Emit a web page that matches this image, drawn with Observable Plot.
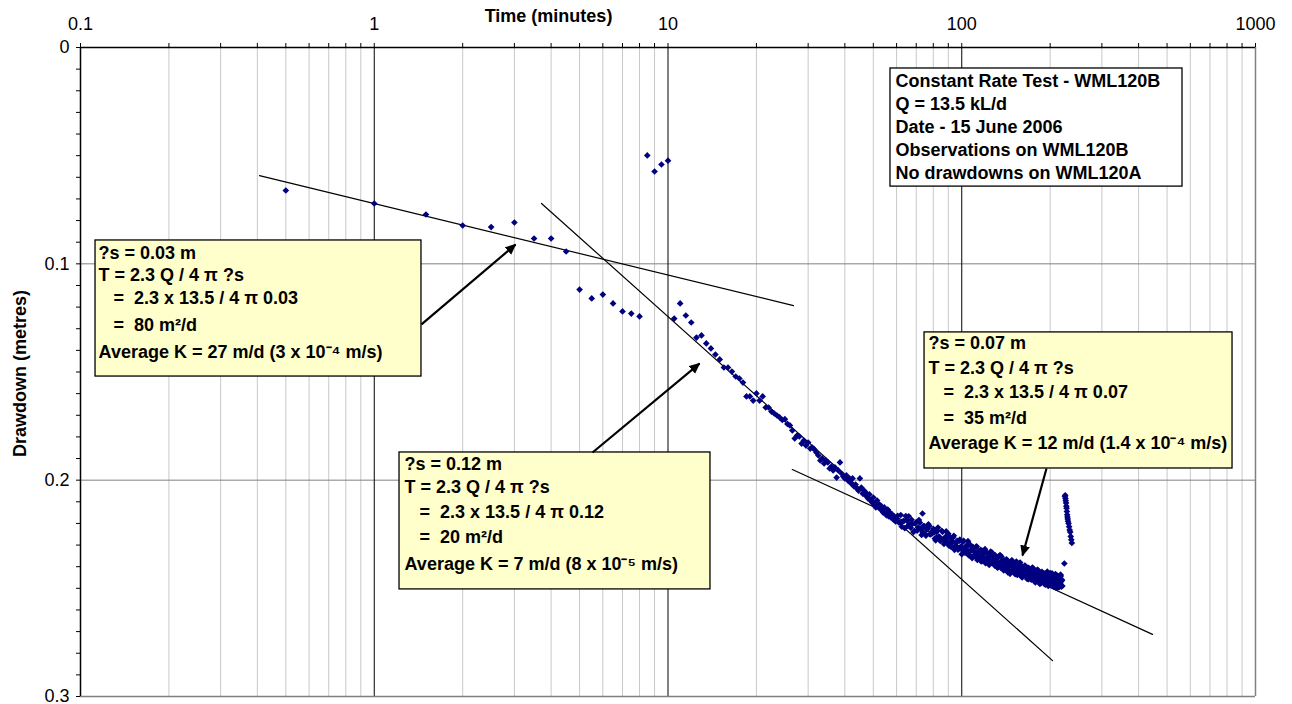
<!DOCTYPE html>
<html><head><meta charset="utf-8">
<script src="https://cdn.jsdelivr.net/npm/d3@7"></script>
<script src="https://cdn.jsdelivr.net/npm/@observablehq/plot@0.6"></script>
<style>
body{margin:0;background:#fff;}
#chart text{white-space:pre;}
#chart svg g[aria-label^="x-axis"] text, #chart svg g[aria-label^="y-axis"] text{font-size:18px !important;font-family:'Liberation Sans',Arial,sans-serif !important;}
</style></head><body><div id="chart"></div>
<script>
// ---- axis ticks ----
const xTicks = [0.1,0.2,0.3,0.4,0.5,0.6,0.7,0.8,0.9,1,2,3,4,5,6,7,8,9,10,20,30,40,50,60,70,80,90,100,200,300,400,500,600,700,800,900,1000];
const xMajor = [0.1,1,10,100,1000];
const xMajorLabels = ["0.1","1","10","100","1000"];
const yTicks = [0,0.01,0.02,0.03,0.04,0.05,0.06,0.07,0.08,0.09,0.1,0.11,0.12,0.13,0.14,0.15,0.16,0.17,0.18,0.19,0.2,0.21,0.22,0.23,0.24,0.25,0.26,0.27,0.28,0.29,0.3];
const yMajor = [0,0.1,0.2,0.3];
const yMajorLabels = ["0","0.1","0.2","0.3"];

// ---- observations (time in minutes, drawdown in metres) ----
const earlyTime = [0.5,1,1.5,2,2.5,3,3.5,4,4.5,5,5.5,6,6.5,7,7.5,8,8.5,9,9.5,10,10.5,11,11.5,12,12.5,13,13.5,14,14.5,15,15.5,16,16.5,17,17.5,18,18.5,19,19.5,20,20.5,21,21.5,22,22.5,23,23.5,24,24.5,25,25.5];
const earlyDrawdown = [0.0661,0.0721,0.0772,0.0823,0.0830,0.0809,0.0883,0.0883,0.0943,0.1119,0.1160,0.1142,0.1183,0.1220,0.1230,0.1243,0.0499,0.0573,0.0541,0.0523,0.1253,0.1183,0.1239,0.1271,0.1341,0.1331,0.1368,0.1391,0.1419,0.1442,0.1479,0.1479,0.1498,0.1521,0.1530,0.1549,0.1613,0.1613,0.1632,0.1599,0.1632,0.1613,0.1664,0.1664,0.1683,0.1692,0.1701,0.1710,0.1722,0.1718,0.1740];

const midTime = [26,26.5,27,27.5,28,28.5,29,29.5,30,30.5,31,31.5,32,32.5,33,33.5,34,34.5,35,35.5,36,36.5,37,37.5,38,38.5,39,39.5,40,40.5,41,41.5,42,42.5,43,43.5,44,44.5,45,45.5,46,46.5,47,47.5,48,48.5,49,49.5,50,50.5,51,51.5,52,52.5,53,53.5,54,54.5,55,55.5,56,56.5,57,57.5,58,58.5,59,59.5,60,73.5];
const midDrawdown = [0.1747,0.1770,0.1807,0.1794,0.1798,0.1831,0.1817,0.1840,0.1826,0.1854,0.1849,0.1858,0.1872,0.1886,0.1909,0.1900,0.1923,0.1909,0.1918,0.1946,0.1937,0.1955,0.1941,0.1988,0.1955,0.1918,0.1969,0.1983,0.1992,0.1978,0.2002,0.1992,0.2015,0.1992,0.2029,0.2020,0.2039,0.2048,0.1992,0.2034,0.2062,0.2048,0.2071,0.2062,0.2085,0.2066,0.2094,0.2103,0.2080,0.2117,0.2126,0.2094,0.2108,0.2131,0.2117,0.2140,0.2150,0.2126,0.2154,0.2163,0.2136,0.2168,0.2150,0.2173,0.2159,0.2182,0.2168,0.2191,0.2177,0.2154];

const lateTime = [61,62,63,64,65,66,67,68,69,70,71,72,73,74,75,76,77,78,79,80,81,82,83,84,85,86,87,88,89,90,91,92,93,94,95,96,97,98,99,100,101,102,103,104,105,106,107,108,109,110,111,112,113,114,115,116,117,118,119,120,121,122,123,124,125,126,127,128,129,130,131,132,133,134,135,136,137,138,139,140,141,142,143,144,145,146,147,148,149,150,151,152,153,154,155,156,157,158,159,160,161,162,163,164,165,166,167,168,169,170,171,172,173,174,175,176,177,178,179,180,181,182,183,184,185,186,187,188,189,190,191,192,193,194,195,196,197,198,199,200,201,202,203,204,205,206,207,208,209,210,211,212,213,214,215,216,217,218,219,220];
const lateDrawdown = [
0.2195,0.2161,0.2192,0.2222,0.2187,0.2167,0.2220,0.2202,0.2234,0.2195,
0.2219,0.2196,0.2253,0.2212,0.2248,0.2225,0.2204,0.2251,0.2240,0.2225,
0.2270,0.2239,0.2219,0.2263,0.2276,0.2239,0.2295,0.2263,0.2282,0.2248,
0.2264,0.2309,0.2286,0.2257,0.2306,0.2287,0.2321,0.2281,0.2312,0.2342,
0.2285,0.2316,0.2333,0.2301,0.2282,0.2333,0.2351,0.2321,0.2308,0.2349,
0.2342,0.2307,0.2369,0.2332,0.2357,0.2322,0.2349,0.2373,0.2337,0.2319,
0.2378,0.2356,0.2342,0.2392,0.2352,0.2377,0.2336,0.2374,0.2387,0.2347,
0.2368,0.2402,0.2357,0.2389,0.2346,0.2406,0.2386,0.2370,0.2417,0.2380,
0.2407,0.2366,0.2402,0.2416,0.2384,0.2433,0.2395,0.2370,0.2415,0.2385,
0.2408,0.2435,0.2386,0.2402,0.2435,0.2398,0.2431,0.2381,0.2422,0.2429,
0.2400,0.2442,0.2430,0.2395,0.2438,0.2423,0.2457,0.2417,0.2405,0.2450,
0.2439,0.2417,0.2460,0.2404,0.2437,0.2456,0.2430,0.2473,0.2419,0.2452,
0.2415,0.2458,0.2441,0.2469,0.2433,0.2476,0.2427,0.2453,0.2466,0.2444,
0.2479,0.2442,0.2471,0.2429,0.2459,0.2438,0.2489,0.2456,0.2470,0.2430,
0.2452,0.2481,0.2431,0.2474,0.2488,0.2447,0.2469,0.2441,0.2496,0.2461,
0.2479,0.2442,0.2469,0.2495,0.2451,0.2478,0.2437,0.2491,0.2465,0.2489];

const lateHalfTime = [60.5,61.5,62.5,63.5,64.5,65.5,66.5,67.5,68.5,69.5,70.5,71.5,72.5,73.5,74.5,75.5,76.5,77.5,78.5,79.5,80.5,81.5,82.5,83.5,84.5,85.5,86.5,87.5,88.5,89.5,90.5,91.5,92.5,93.5,94.5,95.5,96.5,97.5,98.5,99.5,100.5,101.5,102.5,103.5,104.5,105.5,106.5,107.5,108.5,109.5,110.5,111.5,112.5,113.5,114.5,115.5,116.5,117.5,118.5,119.5,120.5,121.5,122.5,123.5,124.5,125.5,126.5,127.5,128.5,129.5,130.5,131.5,132.5,133.5,134.5,135.5,136.5,137.5,138.5,139.5,140.5,141.5,142.5,143.5,144.5,145.5,146.5,147.5,148.5,149.5,150.5,151.5,152.5,153.5,154.5,155.5,156.5,157.5,158.5,159.5,160.5,161.5,162.5,163.5,164.5,165.5,166.5,167.5,168.5,169.5,170.5,171.5,172.5,173.5,174.5,175.5,176.5,177.5,178.5,179.5,180.5,181.5,182.5,183.5,184.5,185.5,186.5,187.5,188.5,189.5,190.5,191.5,192.5,193.5,194.5,195.5,196.5,197.5,198.5,199.5,200.5,201.5,202.5,203.5,204.5,205.5,206.5,207.5,208.5,209.5,210.5,211.5,212.5,213.5,214.5,215.5,216.5,217.5,218.5,219.5];
const lateHalfDrawdown = [
0.2165,0.2195,0.2215,0.2188,0.2166,0.2212,0.2203,0.2183,0.2240,0.2199,
0.2233,0.2184,0.2226,0.2240,0.2212,0.2257,0.2226,0.2212,0.2250,0.2245,
0.2236,0.2278,0.2233,0.2260,0.2281,0.2234,0.2276,0.2266,0.2237,0.2292,
0.2303,0.2268,0.2288,0.2265,0.2322,0.2302,0.2280,0.2319,0.2275,0.2306,
0.2324,0.2280,0.2335,0.2321,0.2307,0.2347,0.2297,0.2325,0.2360,0.2312,
0.2329,0.2352,0.2307,0.2362,0.2328,0.2352,0.2376,0.2327,0.2342,0.2364,
0.2384,0.2334,0.2369,0.2352,0.2383,0.2330,0.2381,0.2370,0.2354,0.2395,
0.2361,0.2381,0.2405,0.2352,0.2395,0.2378,0.2353,0.2407,0.2396,0.2370,
0.2410,0.2385,0.2370,0.2426,0.2398,0.2383,0.2425,0.2389,0.2373,0.2413,
0.2383,0.2422,0.2413,0.2376,0.2438,0.2423,0.2407,0.2438,0.2399,0.2415,
0.2450,0.2406,0.2441,0.2427,0.2397,0.2442,0.2417,0.2405,0.2458,0.2436,
0.2416,0.2458,0.2429,0.2447,0.2406,0.2458,0.2446,0.2421,0.2467,0.2431,
0.2453,0.2415,0.2463,0.2432,0.2480,0.2443,0.2470,0.2424,0.2455,0.2465,
0.2431,0.2455,0.2483,0.2445,0.2471,0.2423,0.2469,0.2479,0.2443,0.2460,
0.2484,0.2449,0.2435,0.2479,0.2458,0.2491,0.2444,0.2471,0.2434,0.2478,
0.2459,0.2497,0.2450,0.2477,0.2494,0.2447,0.2474,0.2443,0.2491,0.2461];

const tailTime = [223.5,224.5,225,225.5,226,226.5,227,227.5,228,228.5,229,229.5,230,231,232,233,234,235,236,237];
const tailDrawdown = [0.2385,0.2075,0.2070,0.2085,0.2095,0.2105,0.2120,0.2130,0.2145,0.2160,0.2170,0.2180,0.2190,0.2200,0.2215,0.2230,0.2240,0.2260,0.2275,0.2290];

// ---- straight-line (Jacob) fits: start and end points ----
const fitStartTime = [0.4068, 3.71, 26.5];
const fitStartDrawdown = [0.0592, 0.0721, 0.1951];
const fitEndTime = [26.74, 203.7, 446];
const fitEndDrawdown = [0.1193, 0.2834, 0.2713];

// ---- annotation arrows (from box edge to target) ----
const arrowFromTime = [1.448, 5.534, 194.3];
const arrowFromDrawdown = [0.1280, 0.1872, 0.1946];
const arrowToTime = [3.026, 12.80, 161.0];
const arrowToDrawdown = [0.0911, 0.1461, 0.2348];

// ---- annotation boxes (data-space extents) ----
const boxLeftTime = [0.1125, 1.219, 74.7, 57.2];
const boxRightTime = [1.448, 13.95, 835.2, 564.3];
const boxTopDrawdown = [0.0892, 0.1872, 0.1317, 0.0097];
const boxBottomDrawdown = [0.1521, 0.2505, 0.1946, 0.0643];
const textStartTime = [0.1152, 1.268, 77.05, 59.5];
const textLineDrawdown = [
  [0.0952,0.1054,0.1160,0.1285,0.1410],
  [0.1928,0.2034,0.2150,0.2265,0.2390],
  [0.1368,0.1484,0.1595,0.1715,0.1831],
  [0.0157,0.0263,0.0370,0.0476,0.0582]];
const boxText = [
  ["?s = 0.03 m","T = 2.3 Q / 4 π ?s","   =  2.3 x 13.5 / 4 π 0.03","   =  80 m²/d","Average K = 27 m/d (3 x 10⁻⁴ m/s)"],
  ["?s = 0.12 m","T = 2.3 Q / 4 π ?s","   =  2.3 x 13.5 / 4 π 0.12","   =  20 m²/d","Average K = 7 m/d (8 x 10⁻⁵ m/s)"],
  ["?s = 0.07 m","T = 2.3 Q / 4 π ?s","   =  2.3 x 13.5 / 4 π 0.07","   =  35 m²/d","Average K = 12 m/d (1.4 x 10⁻⁴ m/s)"],
  ["Constant Rate Test - WML120B","Q = 13.5 kL/d","Date - 15 June 2006","Observations on WML120B","No drawdowns on WML120A"]];

const xTitle = "Time (minutes)";
const yTitle = "Drawdown (metres)";

// ---- build tables ----
const obs = [];
[[earlyTime,earlyDrawdown],[midTime,midDrawdown],[lateTime,lateDrawdown],[lateHalfTime,lateHalfDrawdown],[tailTime,tailDrawdown]]
  .forEach(([ts, ss]) => ts.forEach((t, i) => obs.push({t, s: ss[i]})));
const fits = [];
fitStartTime.forEach((t, i) => {
  fits.push({id: i, t, s: fitStartDrawdown[i]});
  fits.push({id: i, t: fitEndTime[i], s: fitEndDrawdown[i]});
});
const arrows = arrowFromTime.map((t, i) => ({t1: t, s1: arrowFromDrawdown[i], t2: arrowToTime[i], s2: arrowToDrawdown[i]}));
const boxes = boxLeftTime.map((t, i) => ({t1: t, t2: boxRightTime[i], s1: boxTopDrawdown[i], s2: boxBottomDrawdown[i]}));
const notes = [];
boxText.forEach((lines, b) => lines.forEach((text, j) => notes.push({t: textStartTime[b], s: textLineDrawdown[b][j], text})));

const fmtX = d => { const i = xMajor.indexOf(d); return i >= 0 ? xMajorLabels[i] : ""; };
const fmtY = d => { const i = yMajor.indexOf(d); return i >= 0 ? yMajorLabels[i] : ""; };

const chart = Plot.plot({
  width: 1292, height: 704,
  marginTop: 47, marginRight: 37, marginBottom: 8, marginLeft: 80,
  style: {fontFamily: "'Liberation Sans', Arial, sans-serif", fontSize: "18px", background: "#ffffff", color: "#000", overflow: "visible"},
  x: {type: "log", domain: [0.1, 1000], axis: "top", ticks: xTicks, tickFormat: fmtX, tickSize: 5, tickPadding: 13, label: null},
  y: {domain: [0, 0.3], reverse: true, ticks: yTicks, tickFormat: fmtY, tickSize: 4, tickPadding: 7, label: null},
  marks: [
    Plot.ruleX(xTicks.filter(d => !xMajor.includes(d)), {stroke: "#c8c8c8"}),
    Plot.ruleY([0.1, 0.2], {stroke: "#808080"}),
    Plot.ruleX([1, 10, 100], {stroke: "#000"}),
    Plot.ruleX([1000], {stroke: "#808080", strokeWidth: 1.5}),
    Plot.ruleY([0.3], {stroke: "#808080", strokeWidth: 1.5}),
    Plot.ruleY([0], {stroke: "#000", strokeWidth: 1.5}),
    Plot.ruleX([0.1], {stroke: "#000", strokeWidth: 1.5}),
    Plot.line(fits, {x: "t", y: "s", z: "id", stroke: "#000", strokeWidth: 1.2}),
    Plot.rect(boxes.slice(0, 3), {x1: "t1", x2: "t2", y1: "s1", y2: "s2", fill: "#FFFFCC", stroke: "#000", strokeWidth: 1.3}),
    Plot.rect(boxes.slice(3), {x1: "t1", x2: "t2", y1: "s1", y2: "s2", fill: "#FFFFFF", stroke: "#000", strokeWidth: 1.3}),
    Plot.link(arrows, {x1: "t1", y1: "s1", x2: "t2", y2: "s2", stroke: "#000", strokeWidth: 2.2}),
    Plot.text(notes, {x: "t", y: "s", text: "text", textAnchor: "start", fontWeight: "bold", fontSize: 18}),
    Plot.dot(obs, {x: "t", y: "s", symbol: "diamond2", r: 3.0, fill: "#000080"}),
    Plot.text([{t: 3.92, s: -0.0143, text: xTitle}], {x: "t", y: "s", text: "text", fontWeight: "bold", fontSize: 18}),
    Plot.text([{t: 0.0625, s: 0.1507, text: yTitle}], {x: "t", y: "s", text: "text", rotate: -90, fontWeight: "bold", fontSize: 18})
  ]
});
document.getElementById("chart").appendChild(chart);

// filled arrowheads
const svg = d3.select(chart);
const defs = svg.insert("defs", ":first-child");
defs.append("marker").attr("id", "ahead").attr("viewBox", "0 -5 10 10")
  .attr("refX", 9).attr("refY", 0).attr("markerWidth", 11).attr("markerHeight", 11)
  .attr("markerUnits", "userSpaceOnUse").attr("orient", "auto")
  .append("path").attr("d", "M0,-4.5L10,0L0,4.5Z").attr("fill", "#000");
svg.selectAll('g[aria-label="link"] path').attr("marker-end", "url(#ahead)");
</script></body></html>
